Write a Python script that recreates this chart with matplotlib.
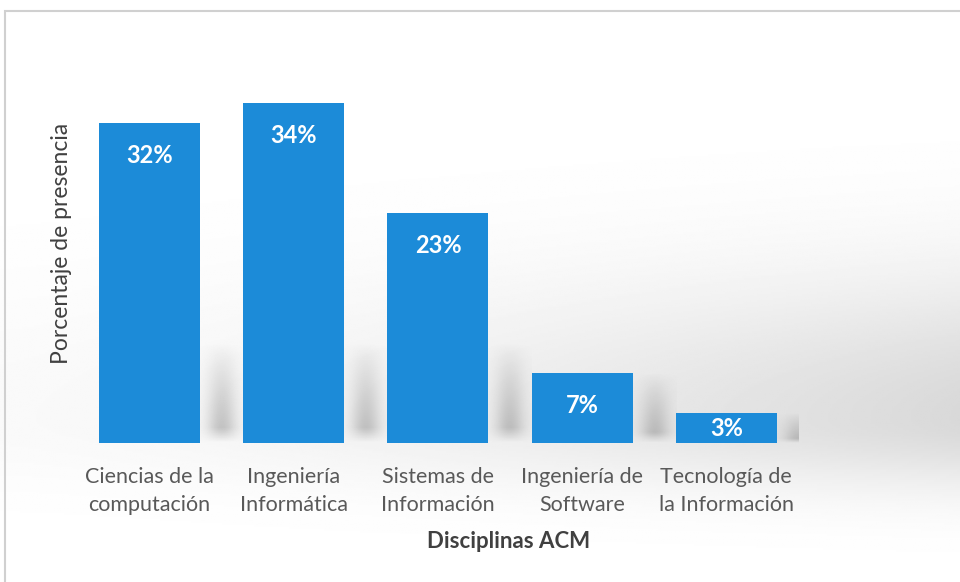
import matplotlib.pyplot as plt
import numpy as np
from matplotlib.patches import Rectangle
from matplotlib.colors import LinearSegmentedColormap

plt.rcParams['font.family'] = ['Lato', 'DejaVu Sans']

# datos del grafico
disciplinas = ["Ciencias de la\ncomputación", "Ingeniería\nInformática",
               "Sistemas de\nInformación", "Ingeniería de\nSoftware",
               "Tecnología de\nla Información"]
porcentajes = [32, 34, 23, 7, 3]

fig = plt.figure(figsize=(9.6, 5.82), dpi=100)

# fondo con degradado (blanco arriba/izq, gris hacia la derecha)
bg = fig.add_axes([0, 0, 1, 1], zorder=0)
yy, xx = np.mgrid[0:1:300j, 0:1:500j]
hy = np.exp(-((yy - 0.28) / 0.25) ** 2)
low = yy < 0.28
hy[low] = np.exp(-((yy[low] - 0.28) / 0.12) ** 2)
fx = 0.15 + 0.85 * xx ** 1.5
dark = 0.15 * hy * fx
bg.imshow(1 - dark, cmap='gray', vmin=0, vmax=1, origin='lower',
          extent=[0, 1, 0, 1], aspect='auto')
bg.add_patch(Rectangle((5 / 960, -0.05), 1.1, 1 - 11 / 582 + 0.05,
                       fill=False, edgecolor='#d0d0d0', lw=1.5))
bg.set_xlim(0, 1)
bg.set_ylim(0, 1)
bg.axis('off')

ax = fig.add_axes([0.0807, 0.2388, 0.7510, 0.6529], zorder=1)
ax.patch.set_alpha(0)

x = np.arange(len(disciplinas))
w = 0.7

# sombras suaves a la derecha de las barras
hs = np.linspace(0, 1, 60)
vs = np.linspace(0, 1, 60)  # 0 abajo, 1 arriba
ph = np.exp(-((hs - 0.5) / 0.35) ** 2)
pv = np.clip(1 - vs, 0, 1) ** 0.8 * np.clip(vs / 0.15, 0, 1)
prof = pv[:, None] * ph[None, :]
cm_sh = LinearSegmentedColormap.from_list(
    'sh', [(0.5, 0.5, 0.5, 0), (0.45, 0.45, 0.45, 0.45)])
for xi, v in zip(x, porcentajes):
    top = min(v, 10)
    ax.imshow(prof, cmap=cm_sh, vmin=0, vmax=1, aspect='auto', origin='lower',
              extent=[xi + w / 2, xi + w / 2 + 0.3, 0, top], zorder=1)

ax.bar(x, porcentajes, width=w, color='#1c8bd8', zorder=2)

for xi, v in zip(x, porcentajes):
    yt = max(v - 3.2, v / 2)
    ax.text(xi, yt, f"{v}%", ha='center', va='center', color='white',
            fontsize=17, fontweight='bold', zorder=3)

ax.set_xlim(-0.5, 4.5)
ax.set_ylim(0, 38)
ax.set_xticks(x)
ax.set_xticklabels(disciplinas, fontsize=15.5, color='#595959', linespacing=1.5)
ax.tick_params(axis='x', length=0, pad=17)
ax.set_yticks([])
for s in ax.spines.values():
    s.set_visible(False)

fig.text(61 / 960, 1 - 243 / 582, "Porcentaje de presencia", rotation=90,
         ha='center', va='center', fontsize=16.5, color='#404040')
fig.text(509 / 960, 1 - 542 / 582, "Disciplinas ACM", ha='center', va='center',
         fontsize=16, fontweight='bold', color='#404040')

fig.savefig('out.png', dpi=100)
